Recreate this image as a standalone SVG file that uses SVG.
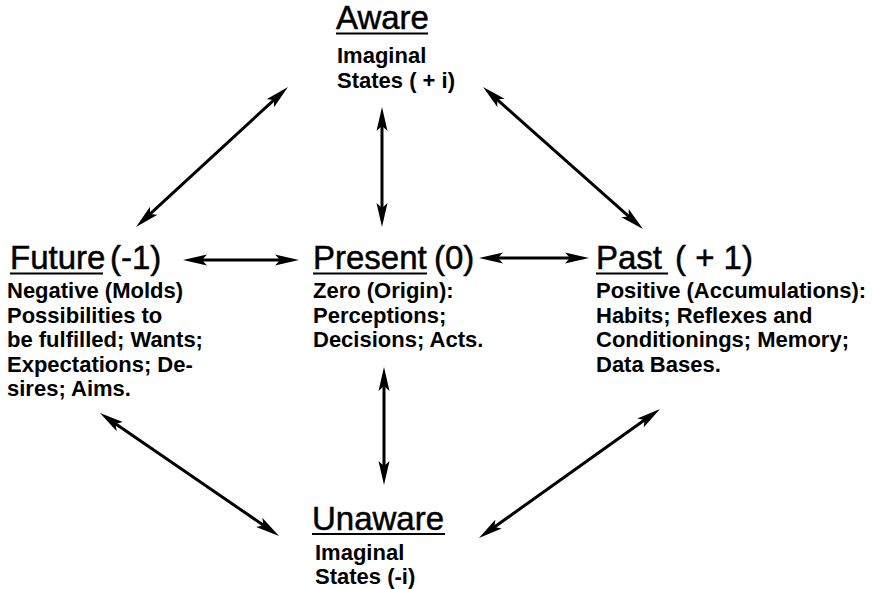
<svg xmlns="http://www.w3.org/2000/svg" width="872" height="589" viewBox="0 0 872 589">
<style>
.t{font-family:"Liberation Sans",Arial,sans-serif;font-size:33px;fill:#000;stroke:#000;stroke-width:0.5}
.b{font-family:"Liberation Sans",Arial,sans-serif;font-size:22px;font-weight:bold;fill:#000}
.u{stroke:#000;stroke-width:2.2}
.c line{stroke:#000;stroke-width:3;marker-start:url(#ah);marker-end:url(#ah)}
</style>
<defs>
<marker id="ah" markerUnits="userSpaceOnUse" viewBox="0 0 24 12" markerWidth="24" markerHeight="12" refX="14" refY="6" orient="auto-start-reverse">
<path d="M24,6 L0,0.5 L5,6 L0,11.5 Z" fill="#000"/>
</marker>
</defs>
<rect width="872" height="589" fill="#fff"/>
<g class="c" id="connectors">
<line x1="280.6" y1="93.8" x2="143.4" y2="220.2"/>
<line x1="382" y1="117" x2="382" y2="217"/>
<line x1="490.5" y1="93.6" x2="635.5" y2="222.4"/>
<line x1="193" y1="260" x2="289" y2="260"/>
<line x1="489" y1="258" x2="579" y2="258"/>
<line x1="384" y1="377" x2="384" y2="475"/>
<line x1="108.2" y1="418.7" x2="270.8" y2="530.3"/>
<line x1="651.9" y1="414.8" x2="487.1" y2="532.2"/>
</g>
<g id="aware">
<text class="t" x="336" y="29">Aware</text>
<line class="u" x1="336" y1="33.5" x2="428" y2="33.5"/>
<text class="b" x="337" y="63">Imaginal</text>
<text class="b" x="337" y="88">States ( + i)</text>
</g>
<g id="future">
<text class="t" x="10" y="269">Future</text>
<text class="t" x="110" y="269">(-1)</text>
<line class="u" x1="10" y1="273.5" x2="103" y2="273.5"/>
<text class="b" x="7" y="298">Negative (Molds)</text>
<text class="b" x="7" y="322.5">Possibilities to</text>
<text class="b" x="7" y="347">be fulfilled; Wants;</text>
<text class="b" x="7" y="371.5">Expectations; De-</text>
<text class="b" x="7" y="396">sires; Aims.</text>
</g>
<g id="present">
<text class="t" x="313" y="269">Present</text>
<text class="t" x="434" y="269">(0)</text>
<line class="u" x1="313" y1="273.5" x2="427" y2="273.5"/>
<text class="b" x="313" y="298">Zero (Origin):</text>
<text class="b" x="313" y="322.5">Perceptions;</text>
<text class="b" x="313" y="347">Decisions; Acts.</text>
</g>
<g id="past">
<text class="t" x="596" y="269">Past</text>
<text class="t" x="675" y="269">( + 1)</text>
<line class="u" x1="596" y1="273.5" x2="668" y2="273.5"/>
<text class="b" x="596" y="298">Positive (Accumulations):</text>
<text class="b" x="596" y="322.5">Habits; Reflexes and</text>
<text class="b" x="596" y="347">Conditionings; Memory;</text>
<text class="b" x="596" y="371.5">Data Bases.</text>
</g>
<g id="unaware">
<text class="t" x="312" y="530">Unaware</text>
<line class="u" x1="312" y1="534" x2="445" y2="534"/>
<text class="b" x="315" y="560">Imaginal</text>
<text class="b" x="315" y="584">States (-i)</text>
</g>
</svg>
